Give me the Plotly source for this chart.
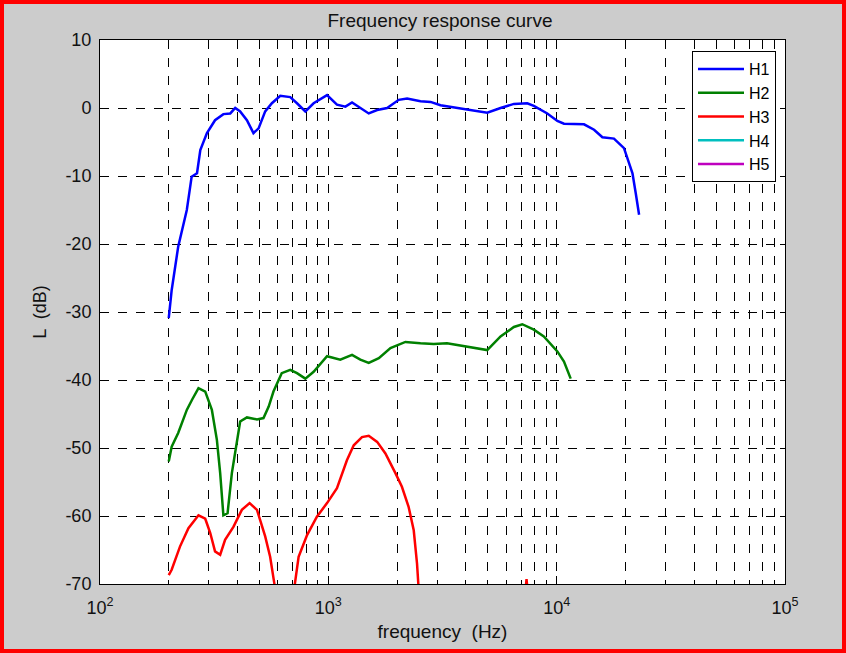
import plotly.graph_objects as go

# ---------------- data ----------------
h1_freq = [200, 206, 220, 240, 252, 266, 275, 294, 319, 347, 372, 391, 411, 440, 470, 495,
           529, 566, 616, 681, 729, 793, 862, 987, 1091, 1188, 1270, 1381, 1503, 1636, 1809,
           2034, 2213, 2532, 2802, 3099, 3669, 4339, 4965, 5679, 6496, 7431, 7943, 9098,
           10070, 10764, 13172, 14580, 15860, 17820, 19720, 20750, 21480, 22190, 22960]
h1_db = [-30.9, -26.8, -20.4, -15.0, -10.1, -9.6, -6.2, -3.7, -1.8, -0.9, -0.8, 0.0, -0.5,
         -1.8, -3.7, -3.0, -0.5, 0.7, 1.8, 1.6, 0.7, -0.5, 0.7, 1.9, 0.5, 0.2, 0.8, 0.0,
         -0.8, -0.3, 0.0, 1.2, 1.4, 1.0, 0.9, 0.4, 0.0, -0.3, -0.7, 0.0, 0.6, 0.7, 0.3,
         -0.8, -1.9, -2.3, -2.4, -3.2, -4.3, -4.5, -5.9, -8.1, -9.6, -12.5, -15.7]

h2_freq = [200, 206, 220, 240, 253, 270, 289, 309, 325, 336, 347, 362, 378, 398, 411, 440,
           487, 520, 548, 575, 625, 681, 729, 793, 862, 987, 1128, 1270, 1381, 1503, 1664,
           1871, 2175, 2532, 2893, 3309, 4049, 4965, 5679, 6496, 7070, 7943, 8785, 10070,
           10764, 11520]
h2_db = [-52.0, -49.8, -47.8, -44.4, -42.9, -41.2, -41.7, -44.4, -48.8, -53.7, -59.9,
         -59.6, -53.7, -48.8, -46.1, -45.5, -45.8, -45.6, -43.9, -41.7, -39.0, -38.5,
         -39.0, -39.8, -38.8, -36.5, -37.0, -36.3, -37.0, -37.5, -36.8, -35.3, -34.4,
         -34.6, -34.7, -34.6, -35.1, -35.6, -33.6, -32.2, -31.8, -32.6, -33.6, -35.8,
         -37.3, -39.8]

h3_freq = [200, 206, 224, 244, 270, 289, 304, 319, 336, 353, 384, 418, 452, 487, 529, 556,
           580, 590, None,
           700, 741, 807, 891, 987, 1091, 1206, 1292, 1404, 1503, 1636, 1778, 1967, 2100,
           2245, 2366, 2446, 2487, 2500, None,
           7300, 7380, 7460]
h3_db = [-68.7, -67.9, -64.5, -61.8, -59.9, -60.4, -62.5, -65.2, -65.7, -63.5, -61.6,
         -59.1, -58.1, -59.1, -63.0, -66.0, -69.9, -72.0, None,
         -72.0, -66.0, -62.8, -60.1, -58.1, -55.9, -51.8, -49.6, -48.4, -48.2, -49.1,
         -50.8, -53.7, -55.7, -58.6, -62.1, -67.0, -70.1, -72.0, None,
         -71.0, -69.3, -71.0]

h4_freq = [1000]
h4_db = [None]
h5_freq = [1000]
h5_db = [None]

series_names = ["H1", "H2", "H3", "H4", "H5"]
series_colors = ["#0000ff", "#008000", "#ff0000", "#00bfbf", "#bf00bf"]
series_x = [h1_freq, h2_freq, h3_freq, h4_freq, h5_freq]
series_y = [h1_db, h2_db, h3_db, h4_db, h5_db]

x_major = [100, 1000, 10000, 100000]
x_major_text = ["10<sup>2</sup>", "10<sup>3</sup>", "10<sup>4</sup>", "10<sup>5</sup>"]
x_minor = [m * d for d in (100, 1000, 10000) for m in range(2, 10)]
y_ticks = [10, 0, -10, -20, -30, -40, -50, -60, -70]
y_tick_text = ["10", "0", "-10", "-20", "-30", "-40", "-50", "-60", "-70"]

# ---------------- figure ----------------
W, H = 846, 653
ML, MR, MT, MB = 100, 61, 40, 69
FONT = "Arial, Liberation Sans, sans-serif"

fig = go.Figure()
for name, color, xs, ys in zip(series_names, series_colors, series_x, series_y):
    fig.add_trace(go.Scatter(x=xs, y=ys, mode="lines", name=name,
                             line=dict(color=color, width=2.5),
                             legendgroup=name, connectgaps=False))

pw = W - ML - MR
ph = H - MT - MB
# red window border (paper coords extended beyond plot domain)
fig.add_shape(type="rect", xref="paper", yref="paper",
              x0=(-ML + 2) / pw, x1=(W - ML - 2) / pw,
              y0=(-MB + 2) / ph, y1=1 + (MT - 2) / ph,
              line=dict(color="#ff0000", width=4), fillcolor="rgba(0,0,0,0)", layer="above")

fig.update_layout(
    width=W, height=H,
    margin=dict(l=ML, r=MR, t=MT, b=MB, pad=0),
    paper_bgcolor="#cccccc",
    plot_bgcolor="white",
    font=dict(family=FONT, size=14, color="black"),
    title=dict(text="Frequency response curve", x=440 / W, xanchor="center",
               y=1 - 20 / H, yanchor="middle", font=dict(size=19, color="#111111")),
    showlegend=True,
    legend=dict(x=(776 - ML) / pw, xanchor="right", y=(584 - 51) / ph, yanchor="top",
                bgcolor="white", bordercolor="black", borderwidth=1,
                font=dict(size=16), traceorder="grouped", tracegroupgap=0,
                itemwidth=46),
)

fig.update_xaxes(
    type="log", range=[2, 5],
    tickmode="array", tickvals=x_major, ticktext=x_major_text,
    ticks="inside", ticklen=8, tickcolor="black", tickwidth=1,
    showline=True, linecolor="black", linewidth=1, mirror="ticks",
    showgrid=True, gridcolor="black", griddash="dash", gridwidth=1,
    zeroline=False, ticklabelstandoff=7,
    tickfont=dict(size=18, color="#111111"),
    minor=dict(tickmode="array", tickvals=x_minor, ticks="inside", ticklen=4,
               tickcolor="black", showgrid=True, gridcolor="black", griddash="dash",
               gridwidth=1),
    title=dict(text="frequency  (Hz)", font=dict(size=19, color="#111111"), standoff=8),
)
fig.update_yaxes(
    range=[-70, 10], tickmode="array", tickvals=y_ticks, ticktext=y_tick_text,
    ticks="inside", ticklen=5, tickcolor="black",
    showline=True, linecolor="black", linewidth=1, mirror="ticks",
    showgrid=True, gridcolor="black", griddash="dash", gridwidth=1,
    zeroline=False, ticklabelstandoff=4,
    tickfont=dict(size=18, color="#111111"),
    title=dict(text="L  (dB)", font=dict(size=18, color="#111111"), standoff=14),
)

fig.write_html("out.html", config={"displayModeBar": False},
               post_script="document.body.style.margin='0';")
